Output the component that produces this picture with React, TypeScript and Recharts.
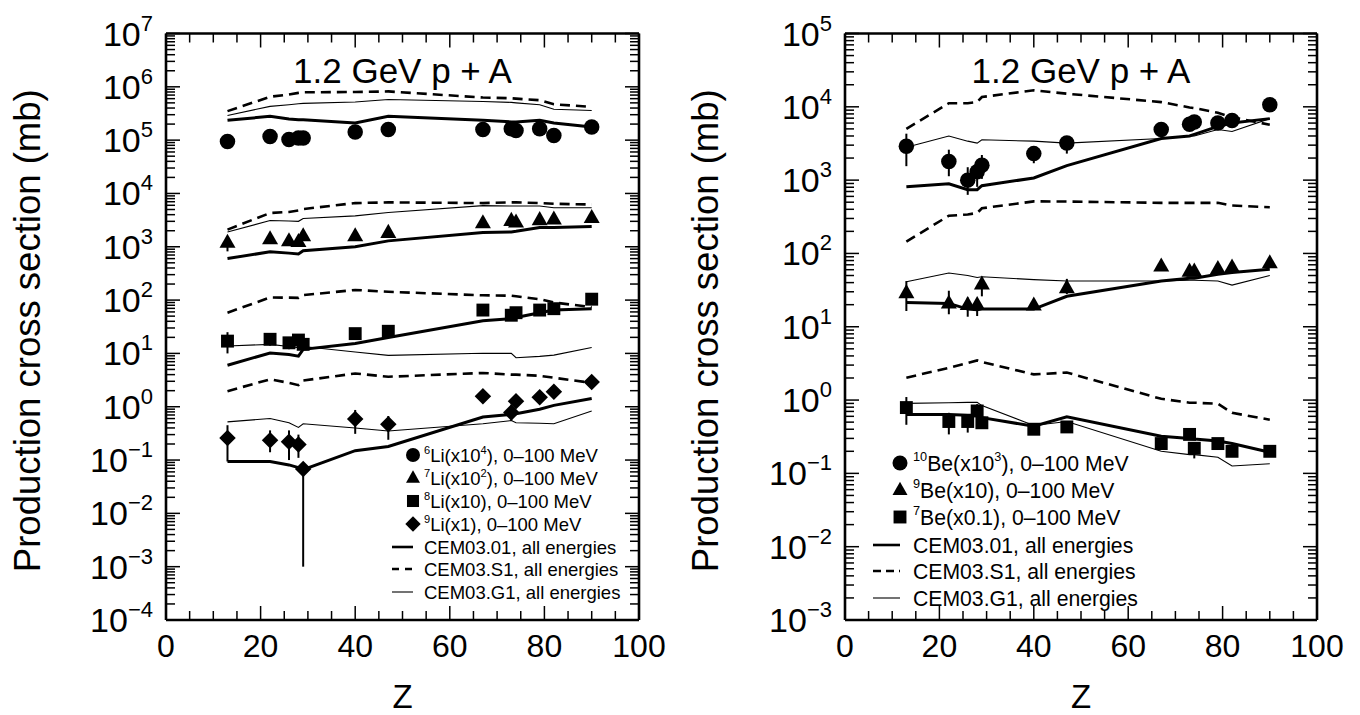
import React from "react";
import { ComposedChart, Line, Scatter, XAxis, YAxis, ErrorBar, Legend, Label } from "recharts";

const FONT = '"Liberation Sans", Arial, Helvetica, sans-serif';

// target charges (Al, Ti, Fe, Ni, Cu, Zr, Ag, Ho, Ta, W, Au, Pb, Th)
const zExp = [13, 22, 26, 28, 29, 40, 47, 67, 73, 74, 79, 82, 90];
const zModel = [13, 22, 26, 28, 29, 40, 47, 67, 73, 74, 79, 82, 90];

const xMajor = [0, 20, 40, 60, 80, 100];
const xTicks = [0, 5, 10, 15, 20, 25, 30, 35, 40, 45, 50, 55, 60, 65, 70, 75, 80, 85, 90, 95, 100];
const leftDecades = [-4, -3, -2, -1, 0, 1, 2, 3, 4, 5, 6, 7];
const rightDecades = [-3, -2, -1, 0, 1, 2, 3, 4, 5];

type Bound = [number, number] | null;

// ---- left panel: Li isotopes (scaled) ----
const li6 = [9.4e4, 1.17e5, 1.03e5, 1.1e5, 1.1e5, 1.42e5, 1.58e5, 1.58e5, 1.64e5, 1.51e5, 1.64e5, 1.22e5, 1.76e5];
const li6Err: Bound[] = [[8.0e4, 1.05e5], null, null, null, null, null, null, null, null, null, null, null, null];
const li7 = [1.21e3, 1.4e3, 1.29e3, 1.25e3, 1.6e3, 1.6e3, 1.85e3, 2.8e3, 3.1e3, 2.9e3, 3.2e3, 3.3e3, 3.5e3];
const li7Err: Bound[] = [[820, 1.5e3], [1.15e3, 1.65e3], [1.05e3, 1.5e3], [1.0e3, 1.45e3], [1.35e3, 1.85e3], null, null, null, null, null, null, null, null];
const li8 = [17, 18.4, 15.8, 17.8, 14.8, 23.5, 26, 65, 52, 58, 65, 69, 104];
const li8Err: Bound[] = [[10, 25], [14, 22], [12, 20], [13, 22], [12, 18], [18, 29], [22, 30], null, null, null, null, null, null];
const li9 = [0.26, 0.234, 0.22, 0.195, 0.068, 0.59, 0.47, 1.58, 0.78, 1.27, 1.5, 1.9, 2.9];
const li9Err: Bound[] = [[0.094, 0.45], [0.14, 0.36], [0.1, 0.36], [0.11, 0.3], [0.001, 0.09], [0.31, 0.87], [0.24, 0.67], null, [0.54, 1.1], [1.0, 1.5], null, null, null];

const li6Cem01 = [2.35e5, 2.8e5, 2.5e5, 2.4e5, 2.4e5, 2.09e5, 2.8e5, 2.35e5, 2.2e5, 2.2e5, 2.35e5, 2.1e5, 1.76e5];
const li6CemS1 = [3.5e5, 6.5e5, 7.2e5, 7.7e5, 7.9e5, 8.0e5, 8.2e5, 6.3e5, 6.1e5, 6.0e5, 5.6e5, 4.7e5, 4.2e5];
const li6CemG1 = [2.9e5, 4.3e5, 4.6e5, 4.8e5, 4.9e5, 5.2e5, 5.8e5, 5.3e5, 5.1e5, 5.0e5, 4.6e5, 3.8e5, 3.6e5];
const li7Cem01 = [600, 805, 760, 730, 840, 1000, 1290, 1850, 1900, 1950, 2300, 2300, 2400];
const li7CemS1 = [2100, 4300, 4500, 4800, 5100, 6600, 6800, 6600, 6800, 6800, 6600, 6400, 6200];
const li7CemG1 = [1900, 3100, 3050, 3000, 3400, 3800, 4400, 5900, 5800, 5800, 5800, 5400, 5400];
const li8Cem01 = [6.0, 10.2, 9.5, 8.9, 11.9, 15.4, 19.8, 41, 45, 47, 58, 65, 69];
const li8CemS1 = [58, 112, 111, 110, 124, 155, 143, 123, 121, 118, 104, 90, 74];
const li8CemG1 = [13.8, 14.8, 13.5, 12.8, 13.5, 10.6, 9.2, 10.1, 10.0, 8.3, 8.8, 9.3, 12.9];
const li9Cem01 = [0.094, 0.094, 0.081, 0.072, 0.066, 0.15, 0.18, 0.64, 0.72, 0.74, 0.9, 1.06, 1.43];
const li9CemS1 = [1.96, 3.26, 2.8, 2.54, 3.1, 4.2, 3.65, 4.3, 4.0, 4.0, 3.8, 3.5, 2.8];
const li9CemG1 = [0.52, 0.6, 0.5, 0.41, 0.48, 0.4, 0.35, 0.48, 0.55, 0.5, 0.49, 0.48, 0.83];

// ---- right panel: Be isotopes (scaled) ----
const be10 = [2.9e3, 1.8e3, 1.0e3, 1.3e3, 1.6e3, 2.3e3, 3.2e3, 4.9e3, 5.8e3, 6.2e3, 6.0e3, 6.5e3, 1.07e4];
const be10Err: Bound[] = [[1.55e3, 4.3e3], [1.13e3, 2.6e3], [630, 1.5e3], [810, 1.45e3], [1.04e3, 2.2e3], [1.7e3, 2.9e3], [2.3e3, 3.9e3], null, null, null, null, null, null];
const be9 = [29, 21, 20, 20, 38, 19.7, 34, 67, 57, 57, 62, 65, 74];
const be9Err: Bound[] = [[16.4, 42], [14.8, 31], [13.7, 25], [14, 24], [26, 45], [17, 23], [28, 45], null, null, null, null, null, null];
const be7 = [0.79, 0.51, 0.51, 0.71, 0.49, 0.4, 0.43, 0.255, 0.34, 0.22, 0.255, 0.2, 0.2];
const be7Err: Bound[] = [[0.46, 1.1], [0.34, 0.67], [0.36, 0.62], [0.55, 0.88], [0.44, 0.55], null, null, null, null, [0.16, 0.26], null, [0.17, 0.23], [0.17, 0.23]];

const be10Cem01 = [810, 890, 740, 740, 840, 1070, 1580, 3700, 4000, 4200, 5400, 6000, 6900];
const be10CemS1 = [5.0e3, 1.12e4, 1.12e4, 1.16e4, 1.36e4, 1.68e4, 1.51e4, 1.16e4, 9.8e3, 9.6e3, 8.3e3, 7.2e3, 5.7e3];
const be10CemG1 = [2.8e3, 4.0e3, 3.4e3, 3.2e3, 3.55e3, 3.4e3, 3.2e3, 3.7e3, 4.0e3, 4.0e3, 4.9e3, 4.6e3, 6.9e3];
const be9Cem01 = [21.4, 20.8, 17.4, 17, 17.4, 17.4, 26, 42, 46, 46, 52, 55, 61];
const be9CemS1 = [145, 327, 340, 356, 413, 513, 510, 490, 490, 490, 490, 450, 427];
const be9CemG1 = [41, 54, 50, 47, 48, 44, 42, 42, 43, 43, 42, 37, 50];
const be7Cem01 = [0.635, 0.635, 0.62, 0.62, 0.575, 0.44, 0.59, 0.32, 0.3, 0.295, 0.277, 0.255, 0.194];
const be7CemS1 = [2.02, 2.75, 3.2, 3.47, 3.3, 2.24, 2.37, 1.04, 0.92, 0.92, 0.89, 0.67, 0.54];
const be7CemG1 = [0.9, 0.92, 0.93, 0.93, 0.84, 0.45, 0.51, 0.2, 0.18, 0.18, 0.166, 0.126, 0.135];

type Kind = "circle" | "triangle" | "square" | "diamond";
type Style = "bold" | "dashed" | "thin";

const lineStyle: Record<Style, { strokeWidth: number; strokeDasharray?: string }> = {
  bold: { strokeWidth: 3 },
  dashed: { strokeWidth: 2.6, strokeDasharray: "10 6" },
  thin: { strokeWidth: 1.1 },
};

function expRows(vals: number[], bounds: Bound[]) {
  return zExp.map((z, i) => {
    const v = vals[i];
    const b = bounds[i];
    return { z, v, err: b ? [v - b[0], b[1] - v] : [0, 0] };
  });
}

function modelRows(vals: number[]) {
  return zModel.map((z, i) => ({ z, v: vals[i] }));
}

function logTicks(decades: number[]) {
  const out: number[] = [];
  decades.forEach((n, i) => {
    if (i === decades.length - 1) out.push(Math.pow(10, n));
    else for (let m = 1; m <= 9; m++) out.push(m * Math.pow(10, n));
  });
  return out;
}

function isDecade(v: number) {
  const l = Math.log10(v);
  return Math.abs(l - Math.round(l)) < 1e-6;
}

function Mark({ kind, cx, cy, s }: { kind: Kind; cx: number; cy: number; s: number }) {
  if (cx == null || cy == null || isNaN(cx) || isNaN(cy)) return null;
  if (kind === "circle") return <circle cx={cx} cy={cy} r={s / 2} fill="#000" />;
  if (kind === "triangle") {
    const h = s * 0.88;
    return (
      <polygon
        points={`${cx},${cy - h * 0.62} ${cx - s / 2},${cy + h * 0.38} ${cx + s / 2},${cy + h * 0.38}`}
        fill="#000"
      />
    );
  }
  if (kind === "square") {
    const a = s * 0.86;
    return <rect x={cx - a / 2} y={cy - a / 2} width={a} height={a} fill="#000" />;
  }
  const r = s * 0.55;
  return <polygon points={`${cx},${cy - r} ${cx + r},${cy} ${cx},${cy + r} ${cx - r},${cy}`} fill="#000" />;
}

const expText = (e: number) => (e < 0 ? "\u2212" + -e : String(e));

const YTickLeft = (p: any) => {
  const v = p.payload.value;
  const major = isDecade(v);
  const e = Math.round(Math.log10(v));
  return (
    <g>
      <line x1={p.x} x2={p.x + (major ? 14 : 9)} y1={p.y} y2={p.y} stroke="#000" strokeWidth={1.5} />
      {major && (
        <text x={p.x - 13} y={p.y + 12} textAnchor="end" fontFamily={FONT} fontSize={34} fill="#000">
          10
          <tspan dy={-15} fontSize={22}>
            {expText(e)}
          </tspan>
        </text>
      )}
    </g>
  );
};

const YTickRight = (p: any) => {
  const major = isDecade(p.payload.value);
  return <line x1={p.x} x2={p.x - (major ? 14 : 9)} y1={p.y} y2={p.y} stroke="#000" strokeWidth={1.5} />;
};

const XTickBottom = (p: any) => {
  const v = p.payload.value;
  const major = xMajor.includes(v);
  return (
    <g>
      <line x1={p.x} x2={p.x} y1={p.y} y2={p.y - (major ? 14 : 9)} stroke="#000" strokeWidth={1.5} />
      {major && (
        <text x={p.x} y={p.y + 37} textAnchor="middle" fontFamily={FONT} fontSize={32} fill="#000">
          {v}
        </text>
      )}
    </g>
  );
};

const XTickTop = (p: any) => {
  const major = xMajor.includes(p.payload.value);
  return <line x1={p.x} x2={p.x} y1={p.y} y2={p.y + (major ? 14 : 9)} stroke="#000" strokeWidth={1.5} />;
};

type Part = [string, string]; // ["sup" | "n", text]
interface LegendRow {
  kind?: Kind;
  line?: Style;
  parts: Part[];
}

const leftLegendRows: LegendRow[] = [
  { kind: "circle", parts: [["sup", "6"], ["n", "Li(x10"], ["sup", "4"], ["n", "), 0\u2013100 MeV"]] },
  { kind: "triangle", parts: [["sup", "7"], ["n", "Li(x10"], ["sup", "2"], ["n", "), 0\u2013100 MeV"]] },
  { kind: "square", parts: [["sup", "8"], ["n", "Li(x10), 0\u2013100 MeV"]] },
  { kind: "diamond", parts: [["sup", "9"], ["n", "Li(x1), 0\u2013100 MeV"]] },
  { line: "bold", parts: [["n", "CEM03.01, all energies"]] },
  { line: "dashed", parts: [["n", "CEM03.S1, all energies"]] },
  { line: "thin", parts: [["n", "CEM03.G1, all energies"]] },
];

const rightLegendRows: LegendRow[] = [
  { kind: "circle", parts: [["sup", "10"], ["n", "Be(x10"], ["sup", "3"], ["n", "), 0\u2013100 MeV"]] },
  { kind: "triangle", parts: [["sup", "9"], ["n", "Be(x10), 0\u2013100 MeV"]] },
  { kind: "square", parts: [["sup", "7"], ["n", "Be(x0.1), 0\u2013100 MeV"]] },
  { line: "bold", parts: [["n", "CEM03.01, all energies"]] },
  { line: "dashed", parts: [["n", "CEM03.S1, all energies"]] },
  { line: "thin", parts: [["n", "CEM03.G1, all energies"]] },
];

interface LegendLayout {
  width: number;
  height: number;
  rowY: number[]; // row centres, relative to legend box
  markX: number;
  lineX: [number, number];
  textX: number;
  fontSize: number;
  markSize: number;
  dash: string;
}

function makeLegend(rows: LegendRow[], L: LegendLayout) {
  return () => (
    <svg width={L.width} height={L.height} style={{ display: "block", overflow: "visible" }}>
      {rows.map((r, i) => {
        const cy = L.rowY[i];
        const sup = Math.round(L.fontSize * 0.45);
        let shifted = false;
        return (
          <g key={i}>
            {r.kind && <Mark kind={r.kind} cx={L.markX} cy={cy} s={L.markSize} />}
            {r.line && (
              <line
                x1={L.lineX[0]}
                x2={L.lineX[1]}
                y1={cy}
                y2={cy}
                stroke="#000"
                strokeWidth={r.line === "thin" ? 1.1 : 2.6}
                strokeDasharray={r.line === "dashed" ? L.dash : undefined}
              />
            )}
            <text x={L.textX} y={cy + L.fontSize * 0.36} fontFamily={FONT} fontSize={L.fontSize} fill="#000">
              {r.parts.map(([t, s], j) => {
                let dy = 0;
                if (t === "sup" && !shifted) {
                  dy = -sup;
                  shifted = true;
                } else if (t === "n" && shifted) {
                  dy = sup;
                  shifted = false;
                }
                return (
                  <tspan key={j} dy={dy} fontSize={t === "sup" ? L.fontSize * 0.6 : L.fontSize}>
                    {s}
                  </tspan>
                );
              })}
            </text>
          </g>
        );
      })}
    </svg>
  );
}

interface PanelProps {
  left: number;
  yDomain: [number, number];
  decades: number[];
  yLeftWidth: number;
  yRightWidth: number;
  exp: { rows: any[]; kind: Kind; size: number }[];
  models: { rows: any[]; style: Style }[];
  legend: () => React.ReactElement;
  legendBox: { left: number; top: number };
  yTitleX: number;
}

const PLOT_TOP = 33.5;
const PLOT_BOTTOM = 620;
const H = 715;

function Panel(P: PanelProps) {
  const yTicks = logTicks(P.decades);
  return (
    <div style={{ position: "absolute", left: P.left, top: 0 }}>
      <ComposedChart width={680} height={H} margin={{ top: 0, right: 0, bottom: 0, left: 0 }}>
        <XAxis
          xAxisId="b"
          dataKey="z"
          type="number"
          domain={[0, 100]}
          ticks={xTicks}
          interval={0}
          height={H - PLOT_BOTTOM}
          tickSize={0}
          tickMargin={0}
          tick={<XTickBottom />}
          axisLine={{ stroke: "#000", strokeWidth: 2.6 }}
          allowDataOverflow
        >
          <Label
            content={(lp: any) => {
              const vb = lp.viewBox || {};
              return (
                <text x={vb.x + vb.width / 2} y={708} textAnchor="middle" fontFamily={FONT} fontSize={33} fill="#000">
                  Z
                </text>
              );
            }}
          />
        </XAxis>
        <XAxis
          xAxisId="t"
          orientation="top"
          dataKey="z"
          type="number"
          domain={[0, 100]}
          ticks={xTicks}
          interval={0}
          height={PLOT_TOP}
          tickSize={0}
          tickMargin={0}
          tick={<XTickTop />}
          axisLine={{ stroke: "#000", strokeWidth: 2.6 }}
          allowDataOverflow
        >
          <Label
            content={(lp: any) => {
              const vb = lp.viewBox || {};
              return (
                <text x={vb.x + vb.width / 2} y={83} textAnchor="middle" fontFamily={FONT} fontSize={35} fill="#000">
                  1.2 GeV p + A
                </text>
              );
            }}
          />
        </XAxis>
        <YAxis
          yAxisId="l"
          type="number"
          scale="log"
          domain={P.yDomain}
          ticks={yTicks}
          interval={0}
          width={P.yLeftWidth}
          tickSize={0}
          tickMargin={0}
          tick={<YTickLeft />}
          axisLine={{ stroke: "#000", strokeWidth: 2.6 }}
          allowDataOverflow
        >
          <Label
            content={() => (
              <text
                x={P.yTitleX}
                y={(PLOT_TOP + PLOT_BOTTOM) / 2 + 4}
                transform={`rotate(-90, ${P.yTitleX}, ${(PLOT_TOP + PLOT_BOTTOM) / 2 + 4})`}
                textAnchor="middle"
                dominantBaseline="central"
                fontFamily={FONT}
                fontSize={36.5}
                fill="#000"
              >
                Production cross section (mb)
              </text>
            )}
          />
        </YAxis>
        <YAxis
          yAxisId="r"
          orientation="right"
          type="number"
          scale="log"
          domain={P.yDomain}
          ticks={yTicks}
          interval={0}
          width={P.yRightWidth}
          tickSize={0}
          tickMargin={0}
          tick={<YTickRight />}
          axisLine={{ stroke: "#000", strokeWidth: 2.6 }}
          allowDataOverflow
        />
        {P.models.map((m, i) => (
          <Line
            key={"m" + i}
            xAxisId="b"
            yAxisId="l"
            data={m.rows}
            dataKey="v"
            type="linear"
            stroke="#000"
            {...lineStyle[m.style]}
            dot={false}
            activeDot={false}
            connectNulls
            isAnimationActive={false}
          />
        ))}
        {P.exp.map((e, i) => (
          <Scatter
            key={"e" + i}
            xAxisId="b"
            yAxisId="l"
            data={e.rows}
            dataKey="v"
            isAnimationActive={false}
            shape={(sp: any) => <Mark kind={e.kind} cx={sp.cx} cy={sp.cy} s={e.size} />}
          >
            <ErrorBar dataKey="err" direction="y" width={0} stroke="#000" strokeWidth={2} />
          </Scatter>
        ))}
        <Legend
          layout="horizontal"
          verticalAlign="middle"
          align="center"
          content={P.legend}
          wrapperStyle={{ left: P.legendBox.left, top: P.legendBox.top, width: "auto", height: "auto" }}
        />
      </ComposedChart>
    </div>
  );
}

const leftLegend = makeLegend(leftLegendRows, {
  width: 270,
  height: 170,
  rowY: [15, 38, 61, 84, 107, 129, 152],
  markX: 33,
  lineX: [12, 33],
  textX: 44,
  fontSize: 18.5,
  markSize: 14,
  dash: "7 6",
});

const rightLegend = makeLegend(rightLegendRows, {
  width: 300,
  height: 170,
  rowY: [18, 45, 72, 100, 126, 153],
  markX: 40,
  lineX: [13, 40],
  textX: 53,
  fontSize: 21.2,
  markSize: 15,
  dash: "8 5",
});

export default function App() {
  const leftExp = [
    { rows: expRows(li6, li6Err), kind: "circle" as Kind, size: 15.5 },
    { rows: expRows(li7, li7Err), kind: "triangle" as Kind, size: 16 },
    { rows: expRows(li8, li8Err), kind: "square" as Kind, size: 15 },
    { rows: expRows(li9, li9Err), kind: "diamond" as Kind, size: 15 },
  ];
  const leftModels = [
    { rows: modelRows(li6Cem01), style: "bold" as Style },
    { rows: modelRows(li6CemS1), style: "dashed" as Style },
    { rows: modelRows(li6CemG1), style: "thin" as Style },
    { rows: modelRows(li7Cem01), style: "bold" as Style },
    { rows: modelRows(li7CemS1), style: "dashed" as Style },
    { rows: modelRows(li7CemG1), style: "thin" as Style },
    { rows: modelRows(li8Cem01), style: "bold" as Style },
    { rows: modelRows(li8CemS1), style: "dashed" as Style },
    { rows: modelRows(li8CemG1), style: "thin" as Style },
    { rows: modelRows(li9Cem01), style: "bold" as Style },
    { rows: modelRows(li9CemS1), style: "dashed" as Style },
    { rows: modelRows(li9CemG1), style: "thin" as Style },
  ];
  const rightExp = [
    { rows: expRows(be10, be10Err), kind: "circle" as Kind, size: 15.5 },
    { rows: expRows(be9, be9Err), kind: "triangle" as Kind, size: 16 },
    { rows: expRows(be7, be7Err), kind: "square" as Kind, size: 15 },
  ];
  const rightModels = [
    { rows: modelRows(be10Cem01), style: "bold" as Style },
    { rows: modelRows(be10CemS1), style: "dashed" as Style },
    { rows: modelRows(be10CemG1), style: "thin" as Style },
    { rows: modelRows(be9Cem01), style: "bold" as Style },
    { rows: modelRows(be9CemS1), style: "dashed" as Style },
    { rows: modelRows(be9CemG1), style: "thin" as Style },
    { rows: modelRows(be7Cem01), style: "bold" as Style },
    { rows: modelRows(be7CemS1), style: "dashed" as Style },
    { rows: modelRows(be7CemG1), style: "thin" as Style },
  ];

  return (
    <div style={{ position: "absolute", left: 0, top: 0, width: 1360, height: H, background: "#fff", fontFamily: FONT }}>
      <Panel
        left={0}
        yDomain={[1e-4, 1e7]}
        decades={leftDecades}
        yLeftWidth={166}
        yRightWidth={41}
        exp={leftExp}
        models={leftModels}
        legend={leftLegend}
        legendBox={{ left: 380, top: 440 }}
        yTitleX={27}
      />
      <Panel
        left={680}
        yDomain={[1e-3, 1e5]}
        decades={rightDecades}
        yLeftWidth={165}
        yRightWidth={43}
        exp={rightExp}
        models={rightModels}
        legend={rightLegend}
        legendBox={{ left: 180, top: 445 }}
        yTitleX={25}
      />
    </div>
  );
}
